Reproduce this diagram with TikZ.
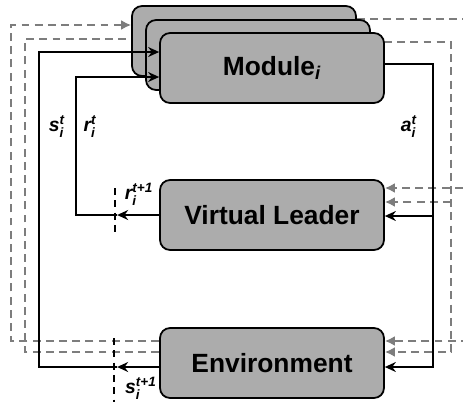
\documentclass[tikz,border=0pt]{standalone}
\usepackage{amsmath}
\usepackage{fontspec}
\setmainfont{Liberation Sans}
\setsansfont{Liberation Sans}
\usetikzlibrary{arrows.meta,calc,backgrounds}
\definecolor{boxgray}{RGB}{172,172,172}
\definecolor{fbgray}{RGB}{125,125,125}

\begin{document}
\begin{tikzpicture}[x=0.02cm,y=-0.02cm,
	blk/.style={draw,line width=1pt,rounded corners=2mm,fill=boxgray,
		minimum width=4.48cm,minimum height=1.4cm,
		font=\fontsize{15}{18}\selectfont\sffamily\bfseries},
	sig/.style={line width=0.9pt},
	fb/.style={fbgray,line width=1.2pt,dash pattern=on 4.5pt off 3pt},
	cut/.style={line width=0.9pt,dash pattern=on 4pt off 3pt},
	lbl/.style={font=\fontsize{11}{13}\selectfont\sffamily\bfseries\itshape}]
	\useasboundingbox (0,0) rectangle (463,403);
	
	\node[blk] (back) at (244,41) {};
	\node[blk] (mid) at (258,55) {};
	\node[blk] (front) at (272,68) {Module$_{\textit{i}}$};
	\node[blk] (vl) at (272,215) {Virtual Leader};
	\node[blk] (env) at (272,363) {Environment};
	
	% feedback of the other modules
	\begin{scope}[on background layer]
	\draw[fb,-{Latex[length=2mm,width=2mm]}] ($(env.west)+(0,-22)$) -| ($(back.west)+(-120,-16)$) -- ($(back.west)+(0,-16)$);
	\draw[fb,-{Latex[length=2mm,width=2mm]}] ($(env.west)+(0,-11)$) -| ($(mid.west)+(-120,-16)$) -- ($(mid.west)+(0,-16)$);
	\draw[fb,-{Latex[length=2mm,width=2mm]}] ($(back.east)+(0,-22)$) -| ($(env.east)+(91,-22)$) -- ($(env.east)+(0,-22)$);
	\draw[fb,-{Latex[length=2mm,width=2mm]}] ($(vl.east)+(91,-27)$) -- ($(vl.east)+(0,-27)$);
	\draw[fb,-{Latex[length=2mm,width=2mm]}] ($(mid.east)+(0,-13)$) -| ($(env.east)+(66,-11)$) -- ($(env.east)+(0,-11)$);
	\draw[fb,-{Latex[length=2mm,width=2mm]}] ($(vl.east)+(66,-13)$) -- ($(vl.east)+(0,-13)$);
	\end{scope}
	
	% action
	\coordinate (aout) at ($(front.east)+(0,-4)$);
	\draw[sig,-{Stealth[length=2.2mm,width=2mm]}] (aout) -| ($(env.east)+(48,4)$) -- ($(env.east)+(0,4)$);
	\draw[sig,-{Stealth[length=2.2mm,width=2mm]}] ($(vl.east)+(48,1)$) -- ($(vl.east)+(0,1)$);
	
	% reward
	\coordinate (rcut) at ($(vl.west)+(-42,0)$);
	\draw[sig,-{Stealth[length=2.2mm,width=2mm]}] (vl.west) -- (rcut);
	\draw[sig,-{Stealth[length=2.2mm,width=2mm]}] (rcut) -- ++(-41,0) |- ($(front.west)+(0,9)$);
	\draw[cut] ($(rcut)+(-2,-27)$) -- ($(rcut)+(-2,17)$);
	
	% state
	\coordinate (scut) at ($(env.west)+(-42,4)$);
	\draw[sig,-{Stealth[length=2.2mm,width=2mm]}] ($(env.west)+(0,4)$) -- (scut);
	\draw[sig,-{Stealth[length=2.2mm,width=2mm]}] (scut) -- ++(-78,0) |- ($(front.west)+(0,-16)$);
	\draw[cut] ($(scut)+(-3,-29)$) -- ($(scut)+(-3,35)$);
	
	\node[lbl] (st) at (57,127) {$\text{s}_{\text{i}}^{\text{t}}$};
	\node[lbl] (rt) at (90,127) {$\text{r}_{\text{i}}^{\text{t}}$};
	\node[lbl] (at) at (409,127) {$\text{a}_{\text{i}}^{\text{t}}$};
	\node[lbl] (rnext) at (139,194) {$\text{r}_{\text{i}}^{\text{t+1}}$};
	\node[lbl] (snext) at (141,388) {$\text{s}_{\text{i}}^{\text{t+1}}$};
\end{tikzpicture}
\end{document}
